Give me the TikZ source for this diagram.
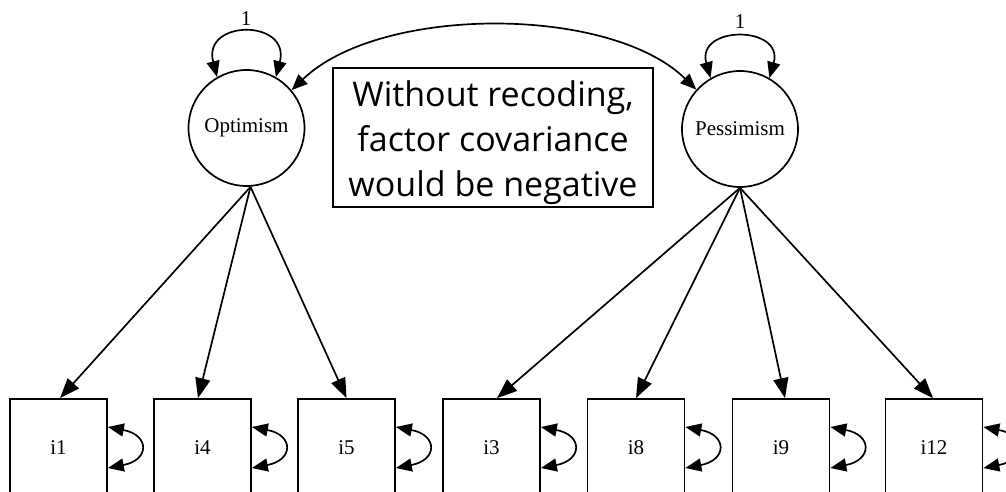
\documentclass[tikz,border=0pt]{standalone}
\usepackage{fontspec}
\setmainfont{Liberation Serif}
\newfontfamily\notefont{Open Sans}
\usetikzlibrary{arrows.meta}
\begin{document}
\begin{tikzpicture}[x=1pt,y=-1pt, line width=1.7pt,
  latent/.style={circle,draw,minimum size=116pt,inner sep=0pt,font=\fontsize{21}{24}\selectfont},
  manifest/.style={rectangle,draw,minimum width=97pt,minimum height=98pt,inner sep=0pt,font=\fontsize{21}{24}\selectfont},
  load/.style={-{Triangle[length=20pt,width=15pt]}},
  cov/.style={{Triangle[length=16pt,width=13pt]}-{Triangle[length=16pt,width=13pt]}},
  note/.style={draw,line width=1.4pt,minimum width=320pt,minimum height=139pt,inner sep=0pt,align=center,font=\notefont\fontsize{34}{45}\selectfont},
  lbl/.style={font=\fontsize{21}{24}\selectfont,inner sep=0pt}]
\useasboundingbox (0,0) rectangle (1006,492);
\clip (0,0) rectangle (1006,492);

\node[latent] (O) at (246.5,128) {Optimism};
\node[latent] (P) at (740,129) {Pessimism};
\node[note] (N) at (493,137.5) {\rule{0pt}{37pt}Without recoding,\\factor covariance\\would be negative};
\node[lbl] (l1) at (246,19) {1};
\node[lbl] (l2) at (740,22) {1};

\draw[cov] (O.120) .. controls +(-15,-58) and +(15,-58) .. (O.60);
\draw[cov] (P.120) .. controls +(-15,-53) and +(15,-53) .. (P.60);
\draw[cov] (O.40) .. controls (380,5) and (610,5) .. (P.138);

\coordinate (Os) at ([xshift=4pt]O.south);
\coordinate (Ps) at (P.south);

\foreach \n/\x in {i1/58.5,i4/202.5,i5/346.5,i3/491.5,i8/636,i9/781,i12/934}{
  \node[manifest] (\n) at (\x,448) {\n};
  \draw[cov] ([yshift=21pt]\n.east) .. controls +(42,8) and +(42,-8) .. ([yshift=-20pt]\n.east);
}

\draw[load] (Os) -- ([xshift=1.5pt]i1.north);
\draw[load] (Os) -- ([xshift=-4.5pt]i4.north);
\draw[load] (Os) -- (i5.north);
\draw[load] (Ps) -- ([xshift=5.5pt]i3.north);
\draw[load] (Ps) -- (i8.north);
\draw[load] (Ps) -- ([xshift=4pt]i9.north);
\draw[load] (Ps) -- ([xshift=-1pt]i12.north);
\end{tikzpicture}
\end{document}
